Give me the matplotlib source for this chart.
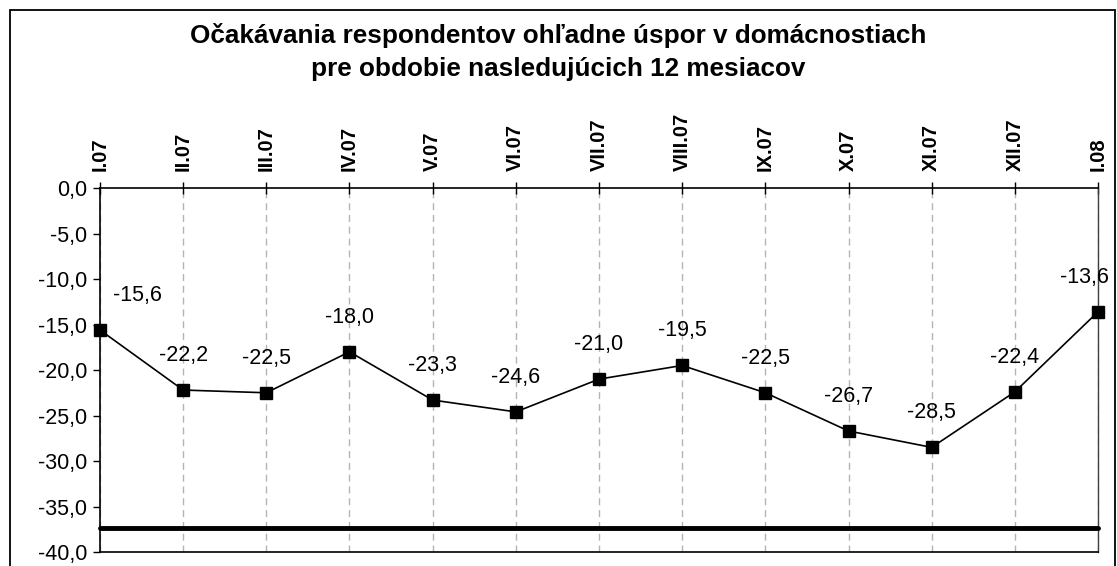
import matplotlib
matplotlib.use("Agg")
import matplotlib.pyplot as plt
from matplotlib.patches import Rectangle

# data
months = ["I.07", "II.07", "III.07", "IV.07", "V.07", "VI.07", "VII.07",
          "VIII.07", "IX.07", "X.07", "XI.07", "XII.07", "I.08"]
values = [-15.6, -22.2, -22.5, -18.0, -23.3, -24.6, -21.0,
          -19.5, -22.5, -26.7, -28.5, -22.4, -13.6]
y_ticks = [0, -5, -10, -15, -20, -25, -30, -35, -40]
baseline = -37.4

plt.rcParams['font.family'] = ['Liberation Sans', 'DejaVu Sans']

fig = plt.figure(figsize=(11.17, 5.66), dpi=100)
ax = fig.add_axes([0.0895, 0.0247, 0.8935, 0.6431])

x = list(range(len(months)))
ax.plot(x, values, color='black', lw=1.2, marker='s', markersize=9, zorder=4, clip_on=False)

# data labels
for i, v in enumerate(values):
    dx = 0
    if i == 0:
        dx = 27
    elif i == len(values) - 1:
        dx = -10
    ax.annotate(f"{v:.1f}".replace('.', ','), (i, v), xytext=(dx, 25),
                textcoords='offset points', ha='center', va='center', fontsize=15.5)

ax.axhline(baseline, color='black', lw=3.5, solid_capstyle='round', clip_on=False, zorder=5)

ax.set_xlim(0, len(months) - 1)
ax.set_ylim(-40, 0)
ax.set_yticks(y_ticks)
ax.set_yticklabels([f"{t:.1f}".replace('.', ',') for t in y_ticks], fontsize=15.5)
ax.tick_params(axis='y', direction='out', length=5, width=1, pad=4)

ax.xaxis.tick_top()
ax.set_xticks(x)
ax.set_xticklabels(months, rotation=90, fontsize=14.5, fontweight='bold')
ax.tick_params(axis='x', direction='inout', length=9, width=1, pad=8)

ax.grid(axis='x', color='#b4b4b4', linestyle=(0, (5, 3.5)), lw=1)
for s in ['top', 'left', 'bottom']:
    ax.spines[s].set_color('black')
    ax.spines[s].set_linewidth(1.2)
ax.spines['right'].set_color('#404040')
ax.spines['right'].set_linewidth(1)

fig.text(0.5, 0.908, "Očakávania respondentov ohľadne úspor v domácnostiach\npre obdobie nasledujúcich 12 mesiacov",
         ha='center', va='center', fontsize=18.8, fontweight='bold', linespacing=1.5)

# outer frame, open at the bottom
fig.patches.append(Rectangle((10 / 1117, -0.05), 1105 / 1117, 1 - 10 / 566 + 0.05,
                             transform=fig.transFigure, fill=False, ec='black', lw=1.3))

fig.savefig("out.png", dpi=100)
